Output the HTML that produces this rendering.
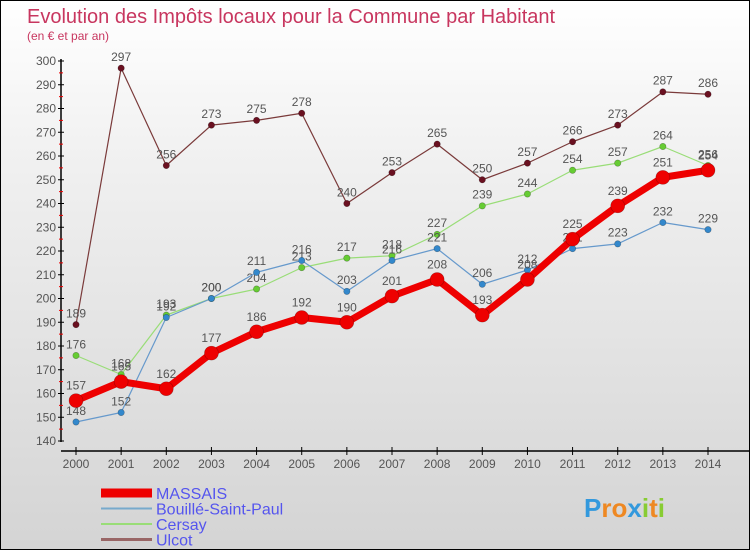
<!DOCTYPE html>
<html><head><meta charset="utf-8"><style>
html,body{margin:0;padding:0}
body{width:750px;height:550px;overflow:hidden;font-family:"Liberation Sans","DejaVu Sans",sans-serif}
#wrap{position:absolute;left:0;top:0;width:748px;height:548px;border:1px solid #000;background:linear-gradient(#ffffff,#f0f0f0 30%,#d4d4d4)}
</style></head><body>
<div id="wrap">
<svg id="chart" width="748" height="548" style="position:absolute;left:0;top:0"></svg>
</div>
<script>
const years=[2000,2001,2002,2003,2004,2005,2006,2007,2008,2009,2010,2011,2012,2013,2014];
const yTicks=[140,150,160,170,180,190,200,210,220,230,240,250,260,270,280,290,300];
const massais=[157,165,162,177,186,192,190,201,208,193,208,225,239,251,254];
const bouille=[148,152,192,200,211,216,203,216,221,206,212,221,223,232,229];
const cersay=[176,168,193,200,204,213,217,218,227,239,244,254,257,264,256];
const ulcot=[189,297,256,273,275,278,240,253,265,250,257,266,273,287,286];
const seriesNames=["MASSAIS","Bouillé-Saint-Paul","Cersay","Ulcot"];

const NS="http://www.w3.org/2000/svg";
const svg=document.getElementById('chart');
function X(i){return 75+i*(707-75)/(years.length-1);}
function Y(v){return 60+(300-v)*(440-60)/(300-140);}
function mk(tag,attrs,parent){const e=document.createElementNS(NS,tag);for(const k in attrs)e.setAttribute(k,attrs[k]);(parent||svg).appendChild(e);return e;}

let t=mk('text',{x:26,y:22,'font-size':20,fill:'#c8365f'});


t.textContent='Evolution des Impôts locaux pour la Commune par Habitant';
t=mk('text',{x:26,y:39,'font-size':12,fill:'#c8365f'});


t.textContent='(en € et par an)';

let ax=mk('line',{x1:60,y1:58,x2:60,y2:441,stroke:'#000','stroke-width':1.5});


ax=mk('line',{x1:60,y1:450,x2:748,y2:450,stroke:'#000','stroke-width':1.5});


yTicks.forEach((v,i)=>{
  const l=mk('line',{x1:57,y1:Y(v),x2:63,y2:Y(v),stroke:'#000'});
  
  
  if(i<yTicks.length-1){const m=mk('line',{x1:58,y1:Y(v+5),x2:62,y2:Y(v+5),stroke:'#e00'});
  
  }
  const tx=mk('text',{x:55,y:Y(v)+4,'font-size':12,fill:'#555','text-anchor':'end'});
  
  
  tx.textContent=v;
});
years.forEach((yr,i)=>{
  const l=mk('line',{x1:X(i),y1:446,x2:X(i),y2:454,stroke:'#000'});
  
  
  const tx=mk('text',{x:X(i),y:467,'font-size':12,fill:'#555','text-anchor':'middle'});
  
  
  tx.textContent=yr;
});

function drawSeries(data,color,dot,width,r,name,fs){
  const g=mk('g',{});
  
  
  const pl=mk('polyline',{points:data.map((v,i)=>X(i)+','+Y(v)).join(' '),fill:'none',stroke:color,'stroke-width':width,'stroke-linejoin':'round'},g);
  
  
  data.forEach((v,i)=>{
    const c=mk('circle',{cx:X(i),cy:Y(v),r:r,fill:dot,stroke:'rgba(0,0,0,0.3)','stroke-width':0.6},g);
    
    
    const tx=mk('text',{x:X(i),y:Y(v)-r-4,'font-size':fs,fill:'#555','text-anchor':'middle'},g);
    
    
    tx.textContent=v;
  });
}
drawSeries(ulcot,'#7a3a3a','#6a1020',1.2,3.2,'ulcot',12);
drawSeries(cersay,'#99dd77','#66cc33',1.2,3.2,'cersay',12);
drawSeries(bouille,'#6699cc','#3388cc',1.2,3.2,'bouille',12);
drawSeries(massais,'#ee0000','#ee0000',7,7,'massais',12);

const lc=['#ee0000','#77aacc','#99dd77','#996666'];
const lw=[9,2,2,3];
seriesNames.forEach((n,i)=>{
  const y=492+i*15.5;
  const g=mk('g',{});
  
  
  mk('line',{x1:100,y1:y,x2:151,y2:y,stroke:lc[i],'stroke-width':lw[i]},g);
  const tx=mk('text',{x:155,y:y+6,'font-size':16,fill:'#5555ee'},g);
  
  
  tx.textContent=n;
});

const lg=mk('text',{x:583,y:516,'font-size':26,'font-weight':'bold'});


[['P','#3399dd'],['r','#ee8822'],['o','#ee8822'],['x','#3399dd'],['i','#88cc33'],['t','#ee8822'],['i','#88cc33']].forEach(([c,col])=>{
  const s=mk('tspan',{fill:col},lg);s.textContent=c;
});
</script>
</body></html>
